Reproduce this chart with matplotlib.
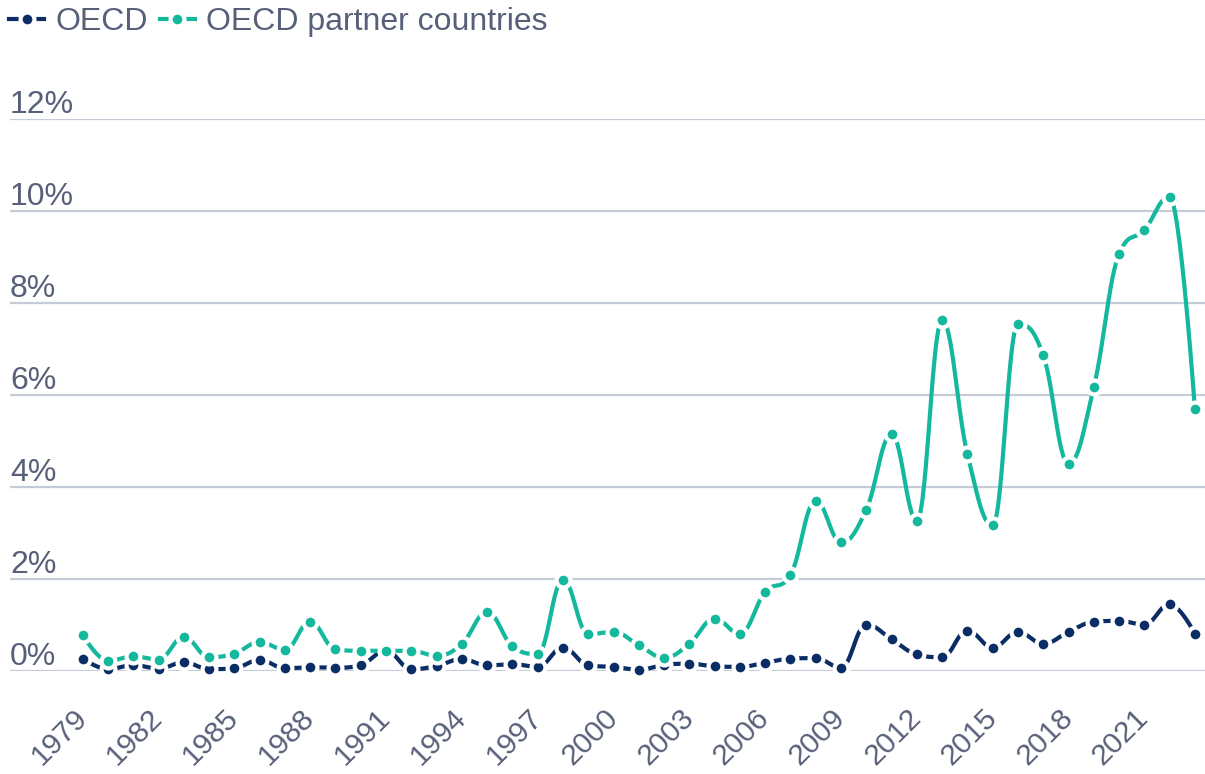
import numpy as np
import matplotlib
matplotlib.use("Agg")
import matplotlib.pyplot as plt
from matplotlib.lines import Line2D
from matplotlib.transforms import ScaledTranslation

years = list(range(1979, 2024))
oecd = [0.27, 0.04, 0.13, 0.05, 0.19, 0.04, 0.06, 0.24, 0.06, 0.08,
        0.07, 0.13, 0.44, 0.04, 0.11, 0.26, 0.12, 0.15, 0.09, 0.51,
        0.12, 0.09, 0.03, 0.13, 0.16, 0.10, 0.09, 0.18, 0.27, 0.28,
        0.07, 1.01, 0.69, 0.36, 0.30, 0.88, 0.51, 0.85, 0.59, 0.85,
        1.07, 1.09, 1.01, 1.45, 0.81]
partner = [0.79, 0.22, 0.32, 0.25, 0.74, 0.30, 0.38, 0.63, 0.46, 1.07,
           0.47, 0.44, 0.44, 0.44, 0.33, 0.59, 1.28, 0.54, 0.37, 1.99,
           0.80, 0.85, 0.56, 0.29, 0.59, 1.14, 0.81, 1.72, 2.09, 3.70,
           2.80, 3.51, 5.15, 3.27, 7.63, 4.72, 3.17, 7.54, 6.87, 4.51,
           6.17, 9.07, 9.59, 10.32, 5.70]
series_names = ["OECD", "OECD partner countries"]
colors = ["#0b2d66", "#14b89c"]
xtick_years = list(range(1979, 2022, 3))
yticks = [0, 2, 4, 6, 8, 10, 12]

TEXT = "#586079"
GRID = "#c5cbd7"
FONT = "Liberation Sans"


def spline(xs, ys, smoothing=1.5, n=30):
    # bezier spline like the one used by the original chart tool
    xs = np.asarray(xs, float)
    ys = np.asarray(ys, float)
    m = len(xs)
    lc = np.zeros((m, 2))
    rc = np.zeros((m, 2))
    for i in range(m):
        px, py = xs[i], ys[i]
        if i == 0 or i == m - 1:
            lc[i] = rc[i] = (px, py)
            continue
        lx, ly = xs[i - 1], ys[i - 1]
        nx, ny = xs[i + 1], ys[i + 1]
        d = smoothing + 1
        lcx = (smoothing * px + lx) / d
        lcy = (smoothing * py + ly) / d
        rcx = (smoothing * px + nx) / d
        rcy = (smoothing * py + ny) / d
        corr = 0
        if rcx != lcx:
            corr = (rcy - lcy) * (rcx - px) / (rcx - lcx) + py - rcy
        lcy += corr
        rcy += corr
        if lcy > ly and lcy > py:
            lcy = max(ly, py)
            rcy = 2 * py - lcy
        elif lcy < ly and lcy < py:
            lcy = min(ly, py)
            rcy = 2 * py - lcy
        if rcy > ny and rcy > py:
            rcy = max(ny, py)
            lcy = 2 * py - rcy
        elif rcy < ny and rcy < py:
            rcy = min(ny, py)
            lcy = 2 * py - rcy
        lc[i] = (lcx, lcy)
        rc[i] = (rcx, rcy)
    t = np.linspace(0, 1, n)[:, None]
    out = []
    for i in range(1, m):
        p0 = np.array([xs[i - 1], ys[i - 1]])
        p1 = rc[i - 1]
        p2 = lc[i]
        p3 = np.array([xs[i], ys[i]])
        seg = ((1 - t) ** 3) * p0 + 3 * ((1 - t) ** 2) * t * p1 + 3 * (1 - t) * t ** 2 * p2 + t ** 3 * p3
        out.append(seg if i == 1 else seg[1:])
    out = np.vstack(out)
    return out[:, 0], out[:, 1]


plt.rcParams["font.family"] = [FONT, "DejaVu Sans"]

fig = plt.figure(figsize=(12.05, 7.74), dpi=100)
ax = fig.add_axes([10 / 1205, (774 - 671) / 774, 1195 / 1205, (671 - 119.3) / 774])

lw = 3.0
ms = 10.0
mew = 3.0
for z, (vals, c) in enumerate(zip([oecd, partner], colors)):
    sx, sy = spline(years, vals)
    ax.plot(sx, sy, color=c, lw=lw, solid_capstyle="butt", clip_on=False, zorder=3 + 2 * z)
    ax.plot(years, vals, ls="none", marker="o", ms=ms, mfc=c, mec="white", mew=mew,
            clip_on=False, zorder=4 + 2 * z)

ax.set_xlim(1976.124, 2023.40)
ax.set_ylim(0, 12)
for y in yticks:
    ax.axhline(y, color=GRID, lw=1.6, zorder=1)
    ax.annotate(f"{y}%", xy=(0, y), xycoords=("axes fraction", "data"),
                xytext=(0, -0.5), textcoords="offset points",
                ha="left", va="bottom", fontsize=23, color=TEXT)
ax.set_yticks([])

ax.set_xticks(xtick_years)
ax.set_xticklabels([str(y) for y in xtick_years], rotation=45, ha="right", va="top",
                   rotation_mode="anchor", fontsize=21.5, color=TEXT)
ax.tick_params(axis="x", length=0, pad=20)
off = ScaledTranslation(-10 / 100, -5 / 100, fig.dpi_scale_trans)
for lab in ax.get_xticklabels():
    lab.set_transform(lab.get_transform() + off)

for s in ax.spines.values():
    s.set_visible(False)

handles = [Line2D([], [], color=c, lw=lw, marker="o", ms=ms, mfc=c, mec="white", mew=mew)
           for c in colors]
fig.legend(handles, series_names, loc="upper left", bbox_to_anchor=(9 / 1205, 1 - 7 / 774),
           ncol=2, frameon=False, fontsize=23, labelcolor=TEXT, handlelength=1.1,
           handletextpad=0.35, columnspacing=0.37, borderaxespad=0, borderpad=0)

fig.savefig("out.png", dpi=100)
